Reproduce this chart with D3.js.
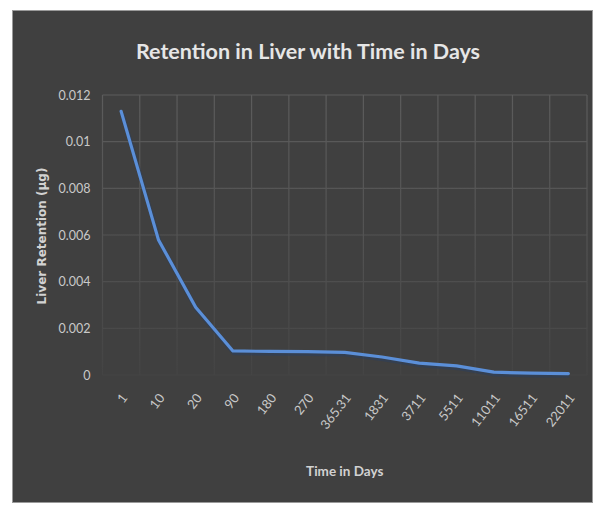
<!DOCTYPE html>
<html>
<head>
<meta charset="utf-8">
<script src="https://cdn.jsdelivr.net/npm/d3@7"></script>
<style>
  html, body { margin: 0; padding: 0; background: #ffffff; }
  svg { display: block; }
</style>
</head>
<body>
<svg id="chart" width="595" height="506"></svg>
<script>
// Liver retention (µg) at each time point (days)
const days = ["1", "10", "20", "90", "180", "270", "365.31", "1831", "3711", "5511", "11011", "16511", "22011"];
const retention = [0.0113, 0.0058, 0.0029, 0.00103, 0.00101, 0.001, 0.00097, 0.00077, 0.00051, 0.00039, 0.00012, 0.00008, 0.00006];
const yTicks = [0, 0.002, 0.004, 0.006, 0.008, 0.01, 0.012];
const yTickLabels = ["0", "0.002", "0.004", "0.006", "0.008", "0.01", "0.012"];

const titleText = "Retention in Liver with Time in Days";
const xTitle = "Time in Days";
const yTitle = "Liver Retention (µg)";

const svg = d3.select("#chart");
const plot = { left: 102.5, right: 587, top: 95, bottom: 375 };
const font = "Lato, 'Open Sans', sans-serif";

// chart background
svg.append("rect")
  .attr("x", 12.5).attr("y", 10.5)
  .attr("width", 580).attr("height", 492)
  .attr("fill", "#404040")
  .attr("stroke", "#9a9a9a").attr("stroke-width", 1);

const x = d3.scaleBand().domain(days).range([plot.left, plot.right]).padding(0);
const y = d3.scaleLinear().domain([0, 0.012]).range([plot.bottom, plot.top]);

// gridlines fade towards the bottom of the plot
const defs = svg.append("defs");
const grad = defs.append("linearGradient")
  .attr("id", "gridFade")
  .attr("gradientUnits", "userSpaceOnUse")
  .attr("x1", 0).attr("y1", plot.top).attr("x2", 0).attr("y2", plot.bottom);
grad.append("stop").attr("offset", "0%").attr("stop-color", "#5c5c5c");
grad.append("stop").attr("offset", "55%").attr("stop-color", "#525252");
grad.append("stop").attr("offset", "100%").attr("stop-color", "#444444");

const grid = svg.append("g").attr("stroke", "url(#gridFade)").attr("stroke-width", 1.2);
grid.selectAll("line.h").data(yTicks).join("line")
  .attr("class", "h")
  .attr("x1", plot.left).attr("x2", plot.right)
  .attr("y1", d => y(d)).attr("y2", d => y(d));
const bounds = days.map(d => x(d)).concat([x(days[days.length - 1]) + x.bandwidth()]);
grid.selectAll("line.v").data(bounds).join("line")
  .attr("class", "v")
  .attr("x1", d => d).attr("x2", d => d)
  .attr("y1", plot.top).attr("y2", plot.bottom);

// y axis labels
const yAxis = d3.axisLeft(y).tickValues(yTicks)
  .tickFormat((d, i) => yTickLabels[i]).tickSize(0).tickPadding(12);
const yg = svg.append("g").attr("transform", `translate(${plot.left},0)`).call(yAxis);
yg.select(".domain").remove();
yg.selectAll("text")
  .attr("fill", "#c9c9c9")
  .style("font-family", font).style("font-size", "12.5px");

// x axis labels, rotated
const xAxis = d3.axisBottom(x).tickSize(0);
const xg = svg.append("g").attr("transform", `translate(0,${plot.bottom})`).call(xAxis);
xg.select(".domain").remove();
xg.selectAll("text")
  .attr("fill", "#c9c9c9")
  .style("font-family", font).style("font-size", "13px")
  .attr("text-anchor", "end")
  .attr("x", 0).attr("y", 0).attr("dy", 0)
  .attr("transform", "translate(7,23) rotate(-52)");

// retention line with a soft shadow underneath
const line = d3.line()
  .x((d, i) => x(days[i]) + x.bandwidth() / 2)
  .y(d => y(d));
svg.append("path").datum(retention)
  .attr("d", line)
  .attr("fill", "none")
  .attr("stroke", "#2d3f5c")
  .attr("stroke-width", 4.5)
  .attr("stroke-linejoin", "round")
  .attr("opacity", 0.6)
  .attr("transform", "translate(1,2)");
svg.append("path").datum(retention)
  .attr("d", line)
  .attr("fill", "none")
  .attr("stroke", "#5b8fd8")
  .attr("stroke-width", 3.2)
  .attr("stroke-linejoin", "round")
  .attr("stroke-linecap", "round");

// title
svg.append("text")
  .attr("x", 308).attr("y", 59)
  .attr("text-anchor", "middle")
  .attr("fill", "#e6e6e6")
  .style("font-family", font).style("font-weight", "bold").style("font-size", "21.5px")
  .text(titleText);

// axis titles
svg.append("text")
  .attr("x", (plot.left + plot.right) / 2).attr("y", 476)
  .attr("text-anchor", "middle")
  .attr("fill", "#d2d2d2")
  .style("font-family", font).style("font-weight", "bold").style("font-size", "13.5px")
  .text(xTitle);

svg.append("text")
  .attr("transform", `translate(46,236) rotate(-90)`)
  .attr("text-anchor", "middle")
  .attr("fill", "#d2d2d2")
  .style("font-family", "'DejaVu Sans', sans-serif").style("font-weight", "bold").style("font-size", "12px")
  .text(yTitle);
</script>
</body>
</html>
